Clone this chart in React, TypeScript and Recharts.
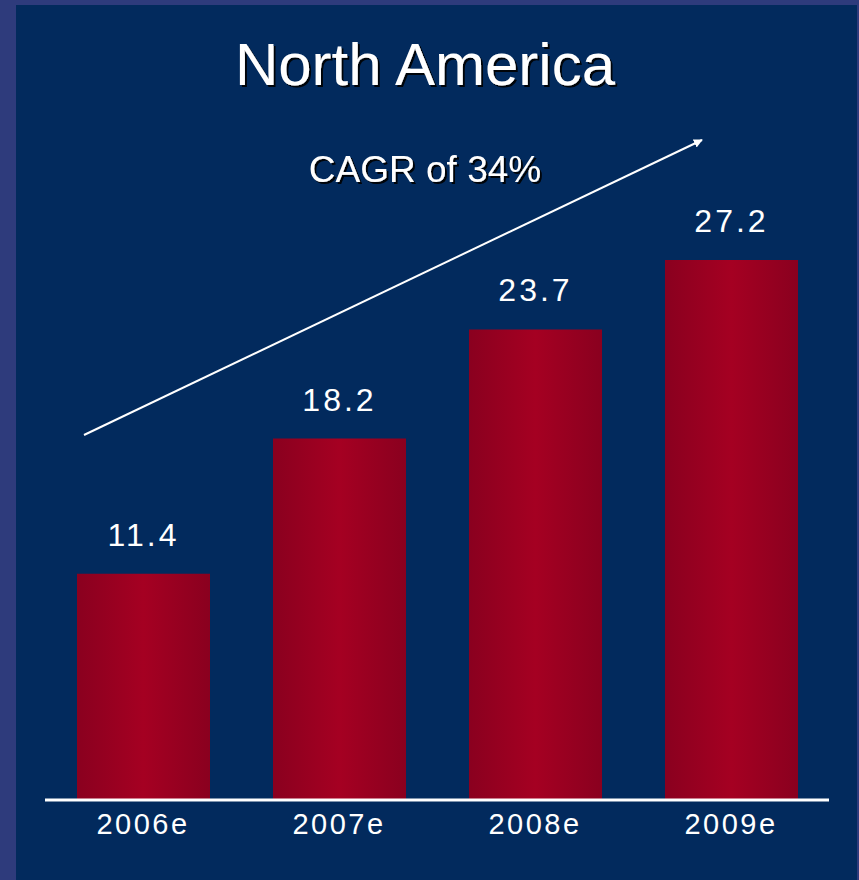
import React from "react";
import { BarChart, Bar, XAxis, YAxis, LabelList } from "recharts";

const years = ["2006e", "2007e", "2008e", "2009e"];
const values = [11.4, 18.2, 23.7, 27.2];
const title = "North America";
const cagrText = "CAGR of 34%";

const data = years.map((y, i) => ({ year: y, value: values[i] }));

const FONT = "'Liberation Sans', Arial, sans-serif";

export default function App() {
  return (
    <div
      style={{
        position: "absolute",
        left: 0,
        top: 0,
        width: 859,
        height: 880,
        background: "#2e3b7c",
        overflow: "hidden",
      }}
    >
      <div
        style={{
          position: "absolute",
          left: 16,
          top: 5,
          width: 841,
          height: 875,
          background: "#022a5d",
        }}
      />
      <div style={{ position: "absolute", left: 0, top: 0 }}>
        <BarChart
          width={859}
          height={880}
          data={data}
          margin={{ top: 105, right: 30, bottom: 30, left: 45 }}
        >
          <defs>
            <linearGradient id="barGrad" x1="0" y1="0" x2="1" y2="0">
              <stop offset="0%" stopColor="#8a001f" />
              <stop offset="50%" stopColor="#a50022" />
              <stop offset="100%" stopColor="#8a001f" />
            </linearGradient>
          </defs>
          <XAxis
            dataKey="year"
            axisLine={{ stroke: "#ffffff", strokeWidth: 3 }}
            tickLine={false}
            tickSize={0}
            tickMargin={13}
            height={50}
            tick={{ fill: "#ffffff", fontSize: 29, fontFamily: FONT, letterSpacing: 2.5 }}
          />
          <YAxis hide domain={[0, 35]} />
          <Bar dataKey="value" fill="url(#barGrad)" barSize={133} isAnimationActive={false}>
            <LabelList
              dataKey="value"
              position="top"
              offset={28}
              fill="#ffffff"
              style={{ fontSize: 32, fontFamily: FONT, letterSpacing: 3 }}
              formatter={(v: number) => v.toFixed(1)}
            />
          </Bar>
        </BarChart>
      </div>
      <svg
        width={859}
        height={880}
        style={{ position: "absolute", left: 0, top: 0, pointerEvents: "none" }}
      >
        <defs>
          <marker
            id="arrowHead"
            viewBox="0 0 10 10"
            refX="9"
            refY="5"
            markerWidth="9"
            markerHeight="9"
            markerUnits="userSpaceOnUse"
            orient="auto"
          >
            <path d="M0,0 L10,5 L0,10 z" fill="#ffffff" />
          </marker>
          <filter id="txtShadow" x="-10%" y="-30%" width="120%" height="160%">
            <feDropShadow dx="2" dy="2" stdDeviation="0.6" floodColor="#000000" floodOpacity="0.9" />
          </filter>
        </defs>
        <line
          x1={84}
          y1={435}
          x2={702}
          y2={140}
          stroke="#ffffff"
          strokeWidth={2}
          markerEnd="url(#arrowHead)"
        />
        <text
          x={425}
          y={85}
          textAnchor="middle"
          fontFamily={FONT}
          fontSize={60}
          fill="#ffffff"
          filter="url(#txtShadow)"
        >
          {title}
        </text>
        <text
          x={425}
          y={182}
          textAnchor="middle"
          fontFamily={FONT}
          fontSize={37}
          fill="#ffffff"
          filter="url(#txtShadow)"
        >
          {cagrText}
        </text>
      </svg>
    </div>
  );
}
